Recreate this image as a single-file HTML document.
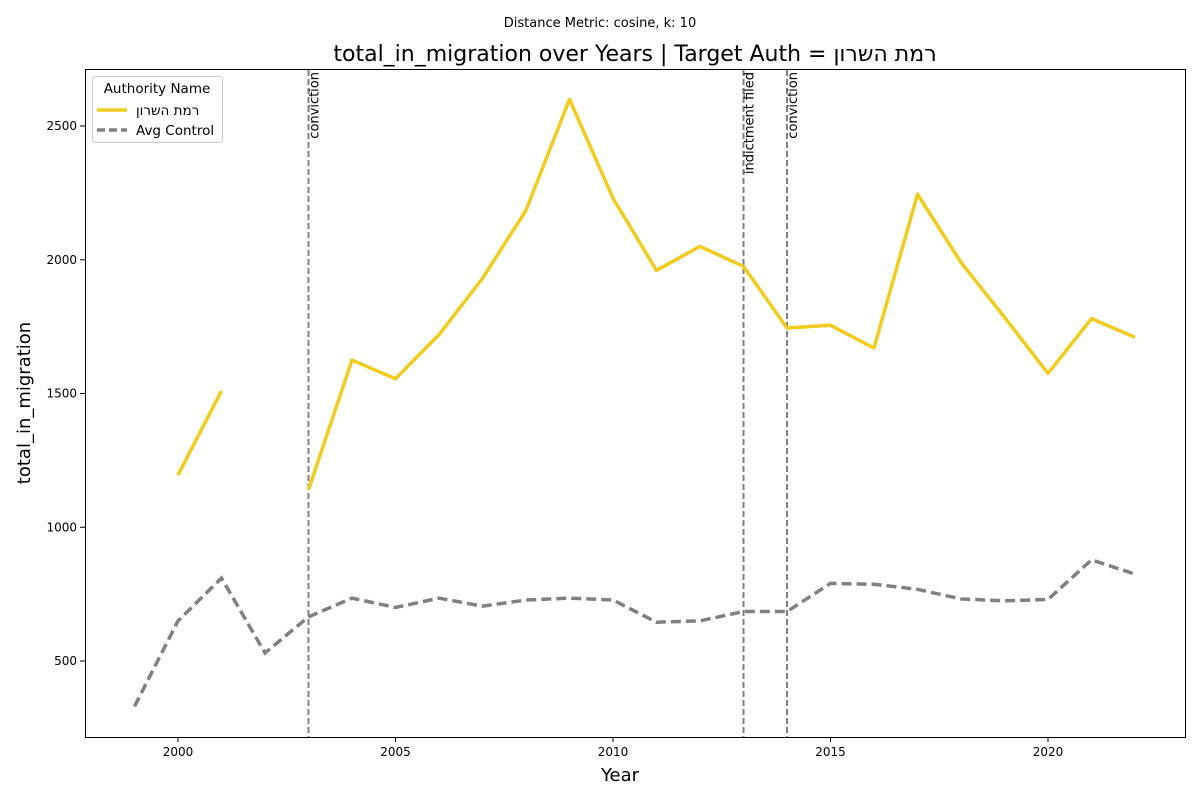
<!DOCTYPE html>
<html><head><meta charset="utf-8"><style>
body{margin:0;background:#fff;font-family:"Liberation Sans","DejaVu Sans",sans-serif}
</style></head><body>
<svg id="chart" width="1200" height="800" xmlns="http://www.w3.org/2000/svg" font-family="'DejaVu Sans','Liberation Sans',sans-serif">
<rect width="1200" height="800" fill="#fff"/>
<text x="600" y="27" font-size="13" text-anchor="middle">Distance Metric: cosine, k: 10</text>
<text x="635" y="61" font-size="22" text-anchor="middle">total_in_migration over Years | Target Auth = <tspan style="unicode-bidi:bidi-override;direction:ltr">ןורשה תמר</tspan></text>
<g id="plot"></g>
<rect x="85.5" y="69.5" width="1100" height="668" fill="none" stroke="#000" stroke-width="1"/>
<text x="620" y="781" font-size="18" text-anchor="middle">Year</text>
<text transform="translate(30,403) rotate(-90)" font-size="18" text-anchor="middle">total_in_migration</text>
<g>
<rect x="92.5" y="76.5" width="130" height="66" rx="3" fill="#fff" stroke="#ccc"/>
<text x="157" y="93" font-size="13.5" text-anchor="middle">Authority Name</text>
<line x1="97" y1="110" x2="127" y2="110" stroke="#f2cc1c" stroke-width="3.5"/>
<text x="136" y="115" font-size="13.5"><tspan style="unicode-bidi:bidi-override;direction:ltr">ןורשה תמר</tspan></text>
<line x1="97" y1="130" x2="127" y2="130" stroke="#808080" stroke-width="3.5" stroke-dasharray="8,4"/>
<text x="136" y="135" font-size="13.5">Avg Control</text>
</g>
</svg>
<script>
const years=[1999,2000,2001,2002,2003,2004,2005,2006,2007,2008,2009,2010,2011,2012,2013,2014,2015,2016,2017,2018,2019,2020,2021,2022];
const target=[null,1195,1510,null,1140,1625,1555,1720,1930,2185,2600,2230,1960,2050,1975,1745,1755,1670,2245,1990,1785,1575,1780,1710];
const control=[330,650,810,530,665,735,700,735,705,728,735,728,645,650,685,685,790,787,768,732,725,730,878,825];
const xTicks=[2000,2005,2010,2015,2020];
const yTicks=[500,1000,1500,2000,2500];
const events=[[2003,"conviction"],[2013,"indictment filed"],[2014,"conviction"]];
const X=y=>178+(y-2000)*43.5;
const Y=v=>126+(2500-v)*0.2675;
const NS="http://www.w3.org/2000/svg";
const g=document.getElementById('plot');
function mk(t,a){const e=document.createElementNS(NS,t);for(const k in a)e.setAttribute(k,a[k]);g.appendChild(e);return e;}
xTicks.forEach(t=>{
 const l=mk('line',{x1:X(t),x2:X(t),y1:737,y2:742,stroke:'#000'});
 
 
 const s=mk('text',{x:X(t),y:756,'font-size':12,'text-anchor':'middle'});s.textContent=t;
 
 
});
yTicks.forEach(t=>{
 const l=mk('line',{x1:80,x2:85,y1:Y(t),y2:Y(t),stroke:'#000'});
 
 
 const s=mk('text',{x:77,y:Y(t)+4,'font-size':12,'text-anchor':'end'});s.textContent=t;
 
 
});
events.forEach(([yr,lab])=>{
 const l=mk('line',{x1:X(yr),x2:X(yr),y1:70,y2:737,stroke:'#808080','stroke-width':2,'stroke-dasharray':'6,3'});
 
 
 const s=mk('text',{transform:`translate(${X(yr)+10},72) rotate(-90)`,'font-size':13,'text-anchor':'end'});s.textContent=lab;
 
 
});
function path(vals){let d='',pen=false;vals.forEach((v,i)=>{if(v==null){pen=false;return;}d+=(pen?'L':'M')+X(years[i])+','+Y(v);pen=true;});return d;}
const c=mk('path',{d:path(control),fill:'none',stroke:'#808080','stroke-width':3.5,'stroke-dasharray':'10,5'});


const t=mk('path',{d:path(target),fill:'none',stroke:'#f2cc1c','stroke-width':3.5,'stroke-linejoin':'round'});


</script>
</body></html>
